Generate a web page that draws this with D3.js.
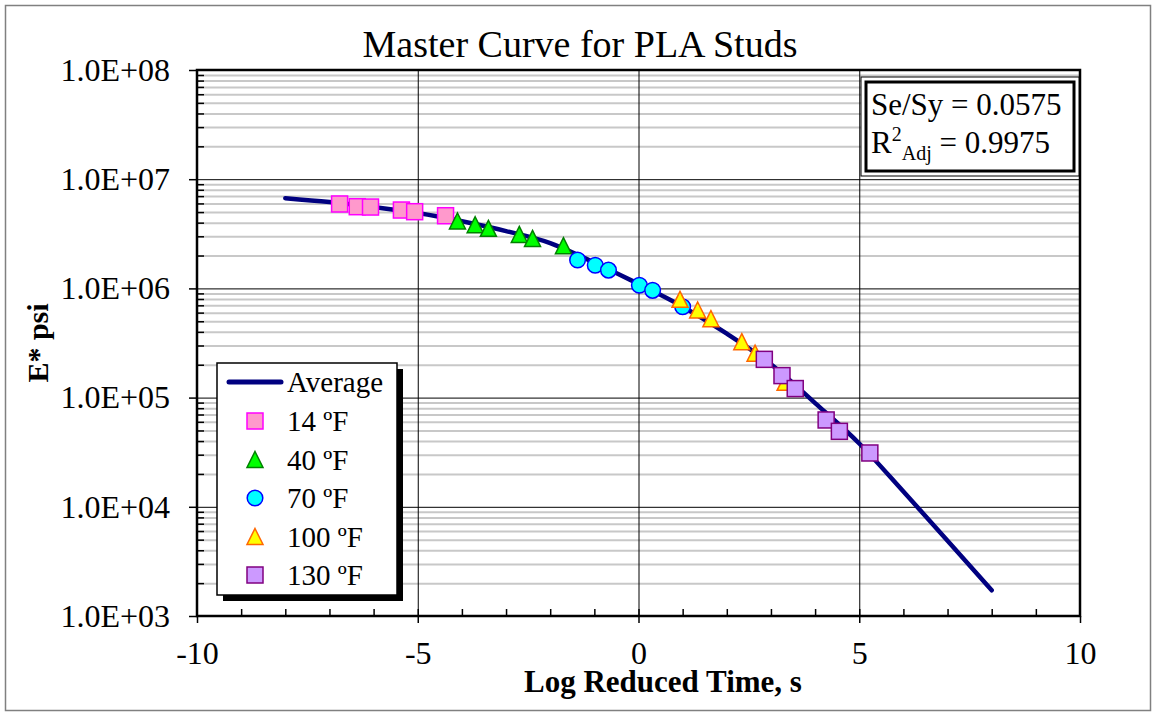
<!DOCTYPE html>
<html>
<head>
<meta charset="utf-8">
<script src="https://cdn.jsdelivr.net/npm/d3@7"></script>
<style>
  body { margin: 0; background: #fff; }
  svg { display: block; }
  text { font-family: "Liberation Serif", "Times New Roman", serif; fill: #000; }
</style>
</head>
<body>
<svg id="chart" width="1156" height="716"></svg>
<script>
// Fitted master curve (average), log reduced time vs |E*| in psi
const curveTime    = [-8, -7, -6, -5, -4, -3, -2, -1, 0, 1, 2, 3, 4, 5, 6, 7, 8];
const curveModulus = [6.7e6, 6.17e6, 5.56e6, 4.90e6, 4.12e6, 3.35e6, 2.60e6, 1.72e6, 1.10e6,
                      6.80e5, 3.85e5, 2.02e5, 8.9e4, 3.8e4, 1.38e4, 4.9e3, 1.72e3];

// Measured points per test temperature
const time14  = [-6.77, -6.37, -6.07, -5.37, -5.07, -4.37];
const mod14   = [5.93e6, 5.60e6, 5.56e6, 5.22e6, 5.04e6, 4.63e6];
const time40  = [-4.10, -3.70, -3.40, -2.70, -2.40, -1.70];
const mod40   = [4.14e6, 3.83e6, 3.55e6, 3.12e6, 2.87e6, 2.46e6];
const time70  = [-1.38, -0.98, -0.68, 0.02, 0.32, 1.00];
const mod70   = [1.82e6, 1.63e6, 1.47e6, 1.07e6, 9.6e5, 6.8e5];
const time100 = [0.94, 1.34, 1.64, 2.34, 2.64, 3.32];
const mod100  = [7.94e5, 6.34e5, 5.28e5, 3.25e5, 2.55e5, 1.38e5];
const time130 = [2.85, 3.25, 3.55, 4.25, 4.55, 5.24];
const mod130  = [2.24e5, 1.59e5, 1.21e5, 6.24e4, 4.91e4, 3.11e4];

const xTicks = [-10, -5, 0, 5, 10];
const xTickLabels = ["-10", "-5", "0", "5", "10"];
const yTicks = [1e3, 1e4, 1e5, 1e6, 1e7, 1e8];
const yTickLabels = ["1.0E+03", "1.0E+04", "1.0E+05", "1.0E+06", "1.0E+07", "1.0E+08"];

const seriesNames = ["14 ºF", "40 ºF", "70 ºF", "100 ºF", "130 ºF"];
const series = [
  { name: seriesNames[0], t: time14,  e: mod14,  shape: "square",   fill: "#FF99CC", stroke: "#FF00FF" },
  { name: seriesNames[1], t: time40,  e: mod40,  shape: "triangle", fill: "#00FF00", stroke: "#008000" },
  { name: seriesNames[2], t: time70,  e: mod70,  shape: "circle",   fill: "#00FFFF", stroke: "#0000FF" },
  { name: seriesNames[3], t: time100, e: mod100, shape: "triangle", fill: "#FFFF00", stroke: "#FF6600" },
  { name: seriesNames[4], t: time130, e: mod130, shape: "square",   fill: "#CC99FF", stroke: "#800080" }
];

const svg = d3.select("#chart");
const X0 = 197, X1 = 1080, Y0 = 616, Y1 = 70;

const x = d3.scaleLinear().domain([-10, 10]).range([X0, X1]);
const y = d3.scaleLog().domain([1e3, 1e8]).range([Y0, Y1]);

// outer chart frame
svg.append("rect").attr("x", 5.5).attr("y", 5.5).attr("width", 1145).attr("height", 705)
  .attr("fill", "#fff").attr("stroke", "#808080").attr("stroke-width", 1.5);

// minor horizontal gridlines (2..9 in each decade)
const minorY = [];
for (let d = 3; d < 8; d++) for (let k = 2; k <= 9; k++) minorY.push(k * Math.pow(10, d));

const gMinor = svg.append("g").attr("transform", `translate(${X0},0)`)
  .call(d3.axisRight(y).tickValues(minorY).tickSize(X1 - X0).tickFormat(""));
gMinor.select(".domain").remove();
gMinor.selectAll("line").attr("stroke", "#c8c8c8").attr("stroke-width", 2);

// major horizontal gridlines
const gMajor = svg.append("g").attr("transform", `translate(${X0},0)`)
  .call(d3.axisRight(y).tickValues(yTicks).tickSize(X1 - X0).tickFormat(""));
gMajor.select(".domain").remove();
gMajor.selectAll("line").attr("stroke", "#000").attr("stroke-width", 1);

// vertical gridlines
const gV = svg.append("g").attr("transform", `translate(0,${Y0})`)
  .call(d3.axisTop(x).tickValues([-5, 0, 5]).tickSize(Y0 - Y1).tickFormat(""));
gV.select(".domain").remove();
gV.selectAll("line").attr("stroke", "#000").attr("stroke-width", 1);

// left axis: labels and outward major ticks
const gY = svg.append("g").attr("transform", `translate(${X0},0)`)
  .call(d3.axisLeft(y).tickValues(yTicks).tickSize(8).tickPadding(19)
    .tickFormat((d, i) => yTickLabels[i]));
gY.select(".domain").remove();
gY.selectAll("line").attr("stroke", "#000").attr("stroke-width", 1.5);
gY.selectAll("text").attr("font-size", 32).attr("font-family", "Liberation Serif").attr("fill", "#000");

// left axis inward minor ticks
const gYm = svg.append("g").attr("transform", `translate(${X0},0)`)
  .call(d3.axisRight(y).tickValues(minorY).tickSize(7).tickFormat(""));
gYm.select(".domain").remove();
gYm.selectAll("line").attr("stroke", "#000").attr("stroke-width", 1.5);

// bottom axis: labels and outward major ticks
const gX = svg.append("g").attr("transform", `translate(0,${Y0})`)
  .call(d3.axisBottom(x).tickValues(xTicks).tickSize(7).tickPadding(18)
    .tickFormat((d, i) => xTickLabels[i]));
gX.select(".domain").remove();
gX.selectAll("line").attr("stroke", "#000").attr("stroke-width", 1.5);
gX.selectAll("text").attr("font-size", 32).attr("font-family", "Liberation Serif").attr("fill", "#000");

// bottom axis inward minor ticks (every unit)
const gXm = svg.append("g").attr("transform", `translate(0,${Y0})`)
  .call(d3.axisTop(x).tickValues(d3.range(-9, 10)).tickSize(7).tickFormat(""));
gXm.select(".domain").remove();
gXm.selectAll("line").attr("stroke", "#000").attr("stroke-width", 1.5);

// plot border
svg.append("rect").attr("x", X0).attr("y", Y1).attr("width", X1 - X0).attr("height", Y0 - Y1)
  .attr("fill", "none").attr("stroke", "#000").attr("stroke-width", 2.5);

// average master curve
const line = d3.line().x(d => x(d[0])).y(d => y(d[1])).curve(d3.curveMonotoneX);
svg.append("path").datum(curveTime.map((t, i) => [t, curveModulus[i]]))
  .attr("d", line).attr("fill", "none").attr("stroke", "#000080")
  .attr("stroke-width", 4.5).attr("stroke-linecap", "round").attr("stroke-linejoin", "round");

// marker drawing helper
function marker(g, shape, cx, cy, fill, stroke) {
  const s = 8;
  if (shape === "square") {
    g.append("rect").attr("x", cx - s).attr("y", cy - s).attr("width", 2 * s).attr("height", 2 * s)
      .attr("fill", fill).attr("stroke", stroke).attr("stroke-width", 1.5);
  } else if (shape === "circle") {
    g.append("circle").attr("cx", cx).attr("cy", cy).attr("r", 7.8)
      .attr("fill", fill).attr("stroke", stroke).attr("stroke-width", 1.5);
  } else {
    g.append("path").attr("d", `M${cx},${cy - s}L${cx + s},${cy + s}L${cx - s},${cy + s}Z`)
      .attr("fill", fill).attr("stroke", stroke).attr("stroke-width", 1.5).attr("stroke-linejoin", "miter");
  }
}

const gPts = svg.append("g");
series.forEach(s => {
  s.t.forEach((t, i) => marker(gPts, s.shape, x(t), y(s.e[i]), s.fill, s.stroke));
});

// title
svg.append("text").attr("x", 580).attr("y", 57).attr("text-anchor", "middle")
  .attr("font-size", 38).text("Master Curve for PLA Studs");

// axis titles
svg.append("text").attr("x", 663).attr("y", 692).attr("text-anchor", "middle")
  .attr("font-size", 31).attr("font-weight", "bold").text("Log Reduced Time, s");
svg.append("text").attr("transform", "translate(48,343) rotate(-90)").attr("text-anchor", "middle")
  .attr("font-size", 30).attr("font-weight", "bold").text("E* psi");

// legend
const lg = svg.append("g");
lg.append("rect").attr("x", 223).attr("y", 369).attr("width", 180).attr("height", 232).attr("fill", "#000");
lg.append("rect").attr("x", 217).attr("y", 363).attr("width", 180).attr("height", 232)
  .attr("fill", "#fff").attr("stroke", "#000").attr("stroke-width", 1.5);
lg.append("line").attr("x1", 229).attr("x2", 281).attr("y1", 382).attr("y2", 382)
  .attr("stroke", "#000080").attr("stroke-width", 5).attr("stroke-linecap", "round");
lg.append("text").attr("x", 287).attr("y", 392).attr("font-size", 29).text("Average");
series.forEach((s, i) => {
  const cy = 421 + i * 38.5;
  marker(lg, s.shape, 255, cy, s.fill, s.stroke);
  lg.append("text").attr("x", 287).attr("y", cy + 10).attr("font-size", 29).text(s.name);
});

// goodness-of-fit box
const sb = svg.append("g");
sb.append("rect").attr("x", 861).attr("y", 77).attr("width", 218).attr("height", 99)
  .attr("fill", "#fff").attr("stroke", "#000").attr("stroke-width", 1);
sb.append("rect").attr("x", 866).attr("y", 82).attr("width", 208).attr("height", 89)
  .attr("fill", "#fff").attr("stroke", "#000").attr("stroke-width", 3);
sb.append("text").attr("x", 871).attr("y", 115).attr("font-size", 31).text("Se/Sy = 0.0575");
const r2 = sb.append("text").attr("x", 871).attr("y", 153).attr("font-size", 31);
r2.append("tspan").text("R");
r2.append("tspan").attr("font-size", 20).attr("dy", -12).text("2");
r2.append("tspan").attr("font-size", 20).attr("dy", 19).text("Adj");
r2.append("tspan").attr("dy", -7).text(" = 0.9975");
</script>
</body>
</html>
